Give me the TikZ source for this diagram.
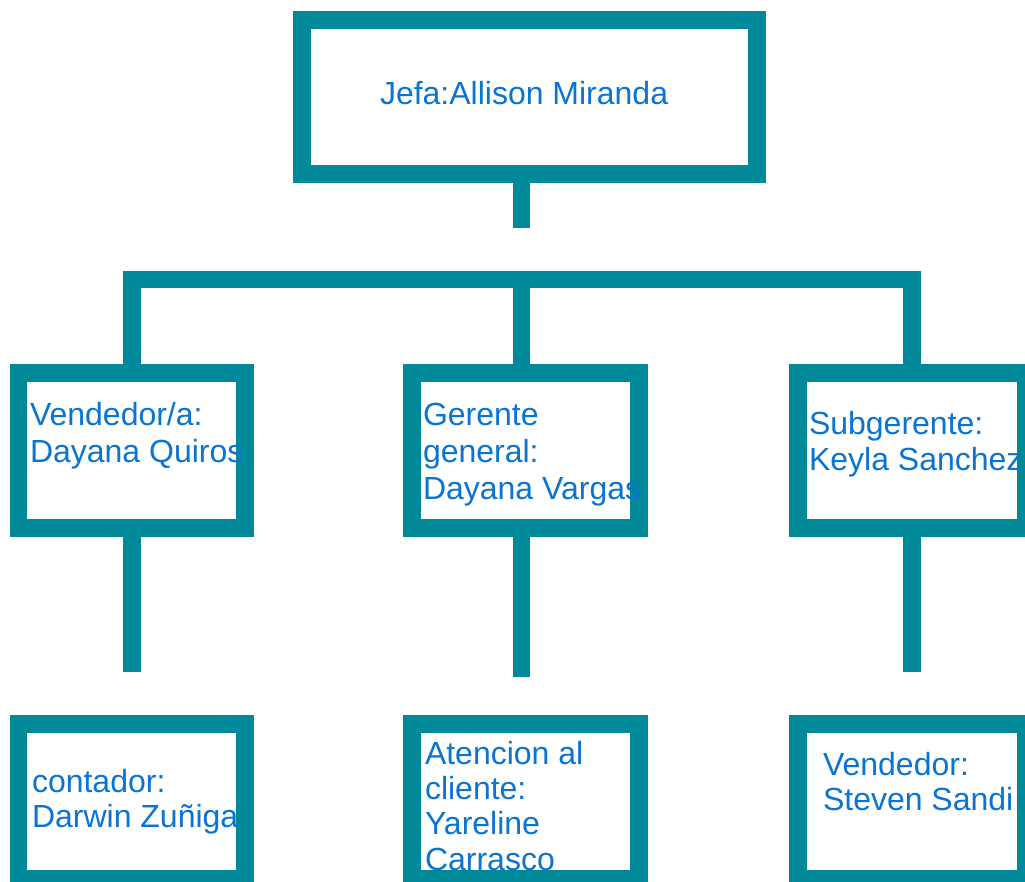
\documentclass[tikz,border=0pt]{standalone}
\usepackage{fontspec}
\setmainfont{Liberation Sans}
\definecolor{teal1}{HTML}{008A99}
\definecolor{txtblue}{HTML}{0A74D2}
\begin{document}
\begin{tikzpicture}[x=1pt,y=-1pt,
  box/.style={draw=teal1,line width=17.5pt,rectangle,inner sep=0pt,outer sep=0pt,fill=white},
  conn/.style={draw=teal1,line width=17.5pt},
  lbl/.style={anchor=base west,inner sep=0pt,outer sep=0pt,align=left,text=txtblue,
    font=\fontsize{32}{#1}\selectfont},
  lbl/.default=36]
\useasboundingbox (0,0) rectangle (1025,881);
% boxes
\node[box,minimum width=455pt,minimum height=154pt] (top) at (529.5,97) {};
\node[box,minimum width=226.5pt,minimum height=155pt] (ml) at (131.75,450.5) {};
\node[box,minimum width=227pt,minimum height=155pt] (mm) at (525.5,450.5) {};
\node[box,minimum width=228pt,minimum height=155pt] (mr) at (912,450.5) {};
\node[box,minimum width=226.5pt,minimum height=155pt] (bl) at (131.75,801.5) {};
\node[box,minimum width=227pt,minimum height=155pt] (bm) at (525.5,801.5) {};
\node[box,minimum width=228pt,minimum height=155pt] (br) at (912,801.5) {};
% connector coordinates
\coordinate (topstub) at (521.5,228);
\coordinate (busl) at (132,279.5);
\coordinate (busm) at (521.5,279.5);
\coordinate (busr) at (912,279.5);
\coordinate (sl) at (132,672);
\coordinate (sm) at (521.5,677);
\coordinate (sr) at (912,672);
% connectors
\draw[conn] (top.south -| topstub) -- (topstub);
\draw[conn,line join=miter] (ml.north -| busl) -- (busl) -- (busr) -- (mr.north -| busr);
\draw[conn] (busm) -- (mm.north -| busm);
\draw[conn] (ml.south -| sl) -- (sl);
\draw[conn] (mm.south -| sm) -- (sm);
\draw[conn] (mr.south -| sr) -- (sr);
% labels (anchored at the baseline of their last line)
\node[lbl] (ttop) at (380,104) {Jefa:Allison Miranda};
\node[lbl=37] (tml) at (30,462) {Vendedor/a:\\Dayana Quiros};
\node[lbl=37] (tmm) at (423,499) {Gerente\\general:\\Dayana Vargas};
\node[lbl=36] (tmr) at (809,470) {Subgerente:\\Keyla Sanchez};
\node[lbl=35] (tbl) at (32,827) {contador:\\Darwin Zuñiga};
\node[lbl=35.3] (tbm) at (425,870) {Atencion al\\cliente:\\Yareline\\Carrasco};
\node[lbl=35] (tbr) at (823,810) {Vendedor:\\Steven Sandi};
\end{tikzpicture}
\end{document}
